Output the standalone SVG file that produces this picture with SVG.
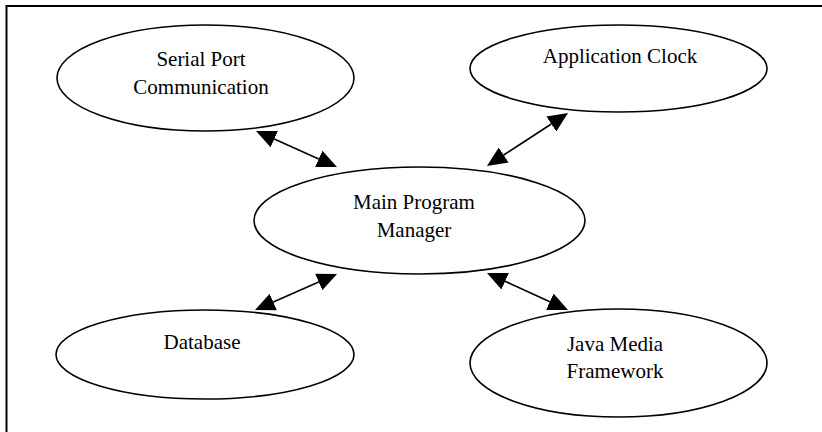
<svg xmlns="http://www.w3.org/2000/svg" width="822" height="432" viewBox="0 0 822 432">
  <style>
    .node ellipse { fill: #ffffff; stroke: #000000; stroke-width: 1.6; }
    .node text { font-family: "Liberation Serif", "Times New Roman", serif; font-size: 21px; fill: #000000; text-anchor: middle; }
    .conn line { stroke: #000000; stroke-width: 1.6; }
    .frame { fill: none; stroke: #000000; stroke-width: 2; }
  </style>
  <defs>
    <marker id="head" viewBox="0 -9 20 18" refX="0" refY="0" markerWidth="20" markerHeight="18" markerUnits="userSpaceOnUse" orient="auto-start-reverse">
      <path d="M0,-9 L20,0 L0,9 z" fill="#000000"/>
    </marker>
  </defs>
  <rect width="822" height="432" fill="#ffffff"/>
  <path class="frame" d="M6.5,432 L6.5,6 L822,6"/>

  <g id="serial-port" class="node">
    <ellipse cx="205.5" cy="78" rx="148.5" ry="53"/>
    <text x="201" y="66">Serial Port</text>
    <text x="201" y="93.5">Communication</text>
  </g>
  <g id="application-clock" class="node">
    <ellipse cx="618.5" cy="68.5" rx="148.5" ry="43.5"/>
    <text x="620" y="63">Application Clock</text>
  </g>
  <g id="main-program-manager" class="node">
    <ellipse cx="419.5" cy="220.5" rx="165.5" ry="53.5"/>
    <text x="414" y="208.5">Main Program</text>
    <text x="414" y="237">Manager</text>
  </g>
  <g id="database" class="node">
    <ellipse cx="205" cy="354.5" rx="149" ry="44.5"/>
    <text x="202" y="348.5">Database</text>
  </g>
  <g id="java-media-framework" class="node">
    <ellipse cx="618.5" cy="363" rx="148.5" ry="54"/>
    <text x="615" y="351">Java Media</text>
    <text x="615" y="377.5">Framework</text>
  </g>

  <g id="connectors" class="conn">
    <line x1="274.3" y1="139.1" x2="318.7" y2="158.9" marker-start="url(#head)" marker-end="url(#head)"/>
    <line x1="503.7" y1="155" x2="551.3" y2="124" marker-start="url(#head)" marker-end="url(#head)"/>
    <line x1="273.3" y1="302" x2="318.7" y2="282" marker-start="url(#head)" marker-end="url(#head)"/>
    <line x1="505.2" y1="281.3" x2="549.8" y2="301.7" marker-start="url(#head)" marker-end="url(#head)"/>
  </g>
</svg>
